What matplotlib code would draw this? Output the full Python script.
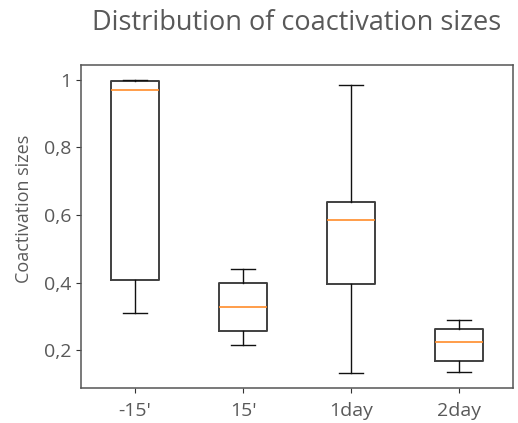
import matplotlib
matplotlib.use("Agg")
import matplotlib.pyplot as plt

# box statistics
labels = ["-15'", "15'", "1day", "2day"]
whisker_low = [0.310, 0.215, 0.132, 0.135]
q1 = [0.409, 0.258, 0.396, 0.168]
medians = [0.970, 0.328, 0.586, 0.224]
q3 = [0.995, 0.399, 0.638, 0.264]
whisker_high = [1.000, 0.441, 0.985, 0.291]

yticks = [0.2, 0.4, 0.6, 0.8, 1.0]
ytick_labels = ["0,2", "0,4", "0,6", "0,8", "1"]

plt.rcParams['font.family'] = ['Open Sans', 'DejaVu Sans']
grey = '#595959'

stats = []
for i in range(len(labels)):
    stats.append({
        'label': labels[i],
        'whislo': whisker_low[i],
        'q1': q1[i],
        'med': medians[i],
        'q3': q3[i],
        'whishi': whisker_high[i],
        'fliers': [],
    })

fig = plt.figure(figsize=(5.18, 4.23), dpi=100)
ax = fig.add_axes([0.1564, 0.0827, 0.8336, 0.7636])
ax.bxp(stats, showfliers=False,
       boxprops=dict(color='#404040', linewidth=1.4),
       whiskerprops=dict(color='#111111', linewidth=1.0),
       capprops=dict(color='#111111', linewidth=1.0),
       medianprops=dict(color='#ff8c2a', linewidth=1.2))

for sp in ax.spines.values():
    sp.set_color('#555555')
    sp.set_linewidth(1.1)

ax.set_yticks(yticks)
ax.set_yticklabels(ytick_labels)
ax.tick_params(labelsize=14, labelcolor=grey, color='#333333')
ax.tick_params(axis='x', pad=6.5)
ax.set_ylabel("Coactivation sizes", fontsize=13, color=grey)
ax.yaxis.set_label_coords(-0.112, 0.554)
ax.set_title("Distribution of coactivation sizes", fontsize=19.5, color=grey, pad=25)

fig.savefig("out.png", dpi=100)
